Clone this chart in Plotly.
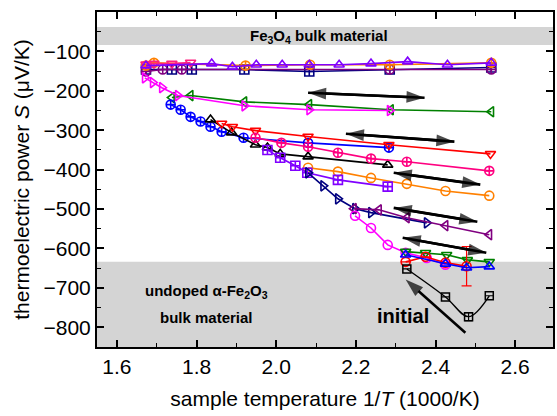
import plotly.graph_objects as go

FONT = "Liberation Sans, Arial, sans-serif"

# ---------------- data (1000/T, S in uV/K) ----------------
violet_top_x = [1.673, 1.838, 1.89, 1.95, 2.015, 2.083, 2.158, 2.238, 2.33, 2.43, 2.54]
violet_top_y = [-136, -131, -139, -134, -134, -134, -134, -131, -126, -134, -129]
orange_top_x = [1.673, 1.693, 1.923, 2.085, 2.285, 2.54]
orange_top_y = [-136, -129, -136, -134, -134, -129]
pink_top_x = [1.673, 1.693, 1.738, 1.785]
pink_top_y = [-133, -131, -131, -128]
navy_top_x = [1.673, 1.738, 1.788, 1.92, 2.083, 2.285, 2.54]
navy_top_y = [-146, -146, -146, -146, -151, -146, -141]
purple_top_x = [1.673, 1.715, 1.763, 2.285, 2.54]
purple_top_y = [-151, -146, -146, -146, -146]

green_left_x = [1.738, 1.785, 1.92, 2.083, 2.288, 2.54]
green_left_y = [-217, -212, -228, -235, -248, -253]
magenta_right_x = [1.67, 1.69, 1.713, 1.753, 1.92, 2.083, 2.285]
magenta_right_y = [-167, -179, -192, -212, -238, -248, -250]

blue_desc_x = [1.735, 1.76, 1.785, 1.81, 1.835, 1.863, 1.918, 2.08, 2.283]
blue_desc_y = [-235, -248, -266, -278, -291, -304, -319, -332, -344]
black_tri_x = [1.835, 1.888, 1.948, 1.978, 2.01, 2.08, 2.28]
black_tri_y = [-273, -306, -337, -344, -360, -367, -388]
red_tri_x = [1.863, 1.89, 1.948, 2.08, 2.283, 2.538]
red_tri_y = [-283, -291, -301, -316, -337, -360]
pink_circ_x = [1.948, 2.013, 2.08, 2.155, 2.238, 2.328, 2.535]
pink_circ_y = [-319, -332, -342, -357, -372, -380, -403]
orange_circ_x = [2.08, 2.155, 2.238, 2.328, 2.425, 2.535]
orange_circ_y = [-395, -405, -421, -436, -454, -466]
violet_sq_x = [1.978, 2.01, 2.048, 2.078, 2.155, 2.28]
violet_sq_y = [-350, -370, -390, -408, -426, -443]
navy_right_x = [2.08, 2.118, 2.155, 2.198, 2.238, 2.378]
navy_right_y = [-408, -441, -474, -499, -509, -535]
purple_left_x = [2.195, 2.258, 2.328, 2.425, 2.535]
purple_left_y = [-499, -502, -522, -542, -565]
magenta_circ_x = [2.198, 2.238, 2.28, 2.325, 2.378, 2.425]
magenta_circ_y = [-517, -548, -591, -611, -624, -641]
green_down_x = [2.325, 2.375, 2.428, 2.48, 2.535]
green_down_y = [-608, -611, -616, -629, -634]
blue_up_x = [2.325, 2.425, 2.478, 2.535]
blue_up_y = [-616, -639, -649, -646]
red_circ_x = [2.325, 2.375, 2.425, 2.478]
red_circ_y = [-634, -621, -636, -645]
red_circ_err = [0, 0, 0, 50]
black_sq_x = [2.328, 2.425, 2.483, 2.535]
black_sq_y = [-652, -723, -773, -720]
black_sq_err = [0, 0, 10, 0]

# bands (uV/K)
fe3o4_band = [-84, -38]
fe2o3_band = [-850, -634]

# arrows: (tail x, tail y, head x, head y)
double_arrows = [
    (2.08, -205, 2.3725, -217.5),
    (2.175, -309, 2.4475, -329),
    (2.295, -408, 2.5125, -438),
    (2.295, -497, 2.505, -532),
    (2.3175, -573, 2.5275, -611),
]
initial_arrow = (2.475, -814, 2.325, -679)

series = [
    (navy_top_x, navy_top_y, "#000080", "square-cross-open", None),
    (purple_top_x, purple_top_y, "#800080", "circle-cross-open", None),
    (orange_top_x, orange_top_y, "#FF8000", "circle-cross-open", None),
    (pink_top_x, pink_top_y, "#FF2080", "triangle-down-open", None),
    (violet_top_x, violet_top_y, "#8000FF", "triangle-up-open", None),
    (green_left_x, green_left_y, "#008000", "triangle-left-open", None),
    (magenta_right_x, magenta_right_y, "#FF00FF", "triangle-right-open", None),
    (blue_desc_x, blue_desc_y, "#0000FF", "circle-cross-open", None),
    (black_tri_x, black_tri_y, "#000000", "triangle-up-open", None),
    (red_tri_x, red_tri_y, "#FF0000", "triangle-down-open", None),
    (pink_circ_x, pink_circ_y, "#FF0080", "circle-cross-open", None),
    (orange_circ_x, orange_circ_y, "#FF8000", "circle-open", None),
    (violet_sq_x, violet_sq_y, "#8000FF", "square-cross-open", None),
    (navy_right_x, navy_right_y, "#000080", "triangle-right-open", None),
    (purple_left_x, purple_left_y, "#800080", "triangle-left-open", None),
    (magenta_circ_x, magenta_circ_y, "#FF00FF", "circle-open", None),
    (green_down_x, green_down_y, "#008000", "triangle-down-open", None),
    (red_circ_x, red_circ_y, "#FF0000", "circle-open", red_circ_err),
    (blue_up_x, blue_up_y, "#0000FF", "triangle-up-open", None),
]

fig = go.Figure()
for xs, ys, col, sym, err in series:
    fig.add_trace(go.Scatter(
        x=xs, y=ys, mode="lines+markers",
        line=dict(color=col, width=1.6),
        marker=dict(symbol=sym, size=9, color=col, line=dict(color=col, width=1.6)),
        error_y=(dict(type="data", array=err, visible=True, color=col, thickness=1.2, width=5)
                 if err else None),
        showlegend=False, hoverinfo="skip",
    ))

fig.add_trace(go.Scatter(
    x=black_sq_x, y=black_sq_y, mode="lines+markers",
    line=dict(color="#000000", width=1.4, shape="spline", smoothing=1.0),
    marker=dict(symbol="square-open", size=8, color="#000000", line=dict(color="#000000", width=1.5)),
    error_y=dict(type="data", array=black_sq_err, visible=True, color="#000000", thickness=1.2, width=4),
    showlegend=False, hoverinfo="skip",
))

# arrows drawn as line traces with oriented arrow markers
HEAD = 19
for tx, ty, hx, hy in double_arrows:
    fig.add_trace(go.Scatter(
        x=[hx, tx, hx], y=[hy, ty, hy], mode="lines+markers",
        line=dict(color="black", width=2.6),
        marker=dict(symbol="arrow", size=[0, HEAD, HEAD], color="black",
                    angleref="previous", line=dict(width=0)),
        showlegend=False, hoverinfo="skip",
    ))
tx, ty, hx, hy = initial_arrow
fig.add_trace(go.Scatter(
    x=[tx, hx], y=[ty, hy], mode="lines+markers",
    line=dict(color="black", width=2.6),
    marker=dict(symbol="arrow", size=[0, HEAD], color="black",
                angleref="previous", line=dict(width=0)),
    showlegend=False, hoverinfo="skip",
))

shapes = [
    dict(type="rect", xref="paper", yref="y", x0=0, x1=1, y0=fe3o4_band[0], y1=fe3o4_band[1],
         fillcolor="#D4D4D4", line=dict(width=0), layer="below"),
    dict(type="rect", xref="paper", yref="y", x0=0, x1=1, y0=fe2o3_band[0], y1=fe2o3_band[1],
         fillcolor="#D4D4D4", line=dict(width=0), layer="below"),
]

annotations = [
    dict(x=2.1075, y=-61, xref="x", yref="y", showarrow=False,
         text="<b>Fe<sub>3</sub>O<sub>4</sub> bulk material</b>",
         font=dict(family=FONT, size=15, color="black")),
    dict(x=1.826, y=-710, xref="x", yref="y", showarrow=False,
         text="<b>undoped α-Fe<sub>2</sub>O<sub>3</sub></b>",
         font=dict(family=FONT, size=15, color="black")),
    dict(x=1.826, y=-776, xref="x", yref="y", showarrow=False,
         text="<b>bulk material</b>",
         font=dict(family=FONT, size=15, color="black")),
    dict(x=2.3175, y=-771, xref="x", yref="y", showarrow=False,
         text="<b>initial</b>",
         font=dict(family=FONT, size=20, color="black")),
]

axis_common = dict(
    showline=True, linewidth=2, linecolor="black", mirror="allticks",
    ticks="inside", ticklen=7, tickwidth=1.6, tickcolor="black",
    showgrid=False, zeroline=False,
    tickfont=dict(family=FONT, size=21, color="black"),
)

fig.update_layout(
    width=557, height=416,
    margin=dict(l=97, r=2, t=12, b=69),
    paper_bgcolor="white", plot_bgcolor="white",
    font=dict(family=FONT, color="black"),
    shapes=shapes, annotations=annotations,
    xaxis=dict(
        range=[1.55, 2.695], tick0=1.6, dtick=0.2, tickformat=".1f",
        minor=dict(dtick=0.1, tick0=1.6, ticks="inside", ticklen=4, tickwidth=1.4, tickcolor="black"),
        title=dict(text="sample temperature 1/<i>T</i> (1000/K)",
                   font=dict(family=FONT, size=21, color="black"), standoff=14),
        **axis_common,
    ),
    yaxis=dict(
        range=[-850, 0], tickvals=[-800, -700, -600, -500, -400, -300, -200, -100],
        minor=dict(tickvals=[-750, -650, -550, -450, -350, -250, -150, -50],
                   ticks="inside", ticklen=4, tickwidth=1.4, tickcolor="black"),
        title=dict(text="thermoelectric power <i>S</i> (μV/K)",
                   font=dict(family=FONT, size=21, color="black"), standoff=8),
        **axis_common,
    ),
)

fig.write_html("out.html")
